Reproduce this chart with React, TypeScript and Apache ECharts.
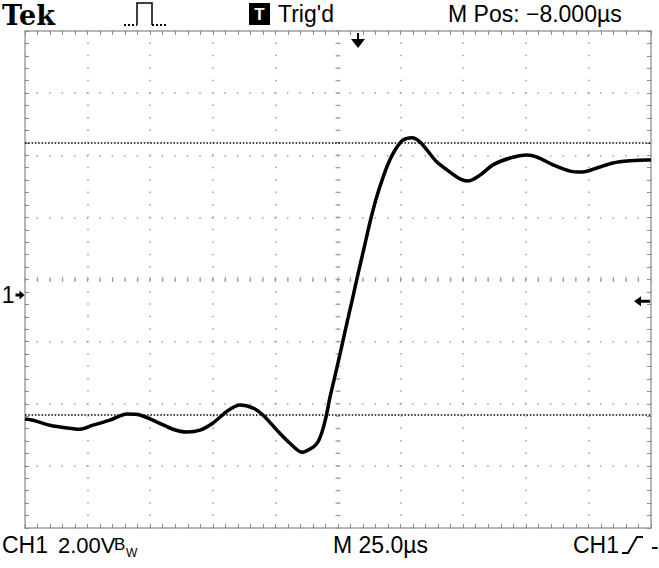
import React, { useEffect, useRef } from "react";
import * as echarts from "echarts";

// Time axis: 25 µs/div, 10 divisions (0..250 µs across the screen)
const timeUs = [0, 3.2, 10, 16.8, 22, 27.2, 33.9, 40.7, 45.9, 52.7, 59.1, 64.7, 69.9, 75.1, 80.7, 85.9, 91.1, 95, 100.6, 105.8, 110.6, 115, 117, 118.6, 120.2, 121.8, 123.4, 125.8, 128.2, 130.6, 133, 135.4, 137.8, 140.2, 142.6, 145, 147.8, 151, 154.6, 157.7, 160.5, 164.5, 168.5, 173.7, 176.9, 181.7, 186.9, 193.7, 200.5, 204.5, 210.9, 217.7, 222.8, 228.4, 234.8, 241.6, 248.4, 250];
// CH1 volts: 2.00 V/div, ground 0.25 div below centre
const ch1Volts = [-3.99, -4.03, -4.19, -4.28, -4.32, -4.19, -4.03, -3.83, -3.86, -4.09, -4.32, -4.41, -4.35, -4.12, -3.74, -3.54, -3.64, -3.86, -4.35, -4.77, -5.06, -4.9, -4.73, -4.41, -3.93, -3.29, -2.74, -1.9, -1.03, -0.19, 0.68, 1.51, 2.35, 3.09, 3.7, 4.22, 4.67, 4.99, 5.06, 4.93, 4.67, 4.28, 4.03, 3.74, 3.67, 3.86, 4.19, 4.41, 4.51, 4.44, 4.19, 3.99, 3.96, 4.09, 4.25, 4.32, 4.35, 4.35];
const cursorVolts = [4.9, -3.86];
const triggerTimeUs = 133;
const triggerLevelV = -0.2;
const groundV = 0;
const voltRange = [-7.5, 8.5];
const timeRange = [0, 250];
const headerTexts = ["Tek", "Trig'd", "M Pos: \u22128.000\u00b5s"];
const footerTexts = ["CH1", "2.00V", "B", "W", "M 25.0\u00b5s", "CH1", "-"];

const GRAY = "#a0a0a0";
const TICK = "#8c8c8c";
const SANS = '"Liberation Sans", Arial, sans-serif';

function divAxis(position: string, max: number, split: any) {
  return {
    type: "value",
    min: 0,
    max,
    interval: 1,
    position,
    axisLine: { show: true, onZero: false, lineStyle: { color: GRAY, width: 1.5 } },
    axisTick: { show: true, inside: true, length: 4, lineStyle: { color: TICK, width: 1 } },
    minorTick: { show: true, splitNumber: 5, length: 4, lineStyle: { color: TICK, width: 1 } },
    axisLabel: { show: false },
    splitLine: split,
  };
}

export default function App() {
  const ref = useRef<HTMLDivElement>(null);
  useEffect(() => {
    if (!ref.current) return;
    const chart = echarts.init(ref.current, undefined, { renderer: "svg" });
    const txt = (text: string, x: number, y: number, font: string, extra: any = {}) => ({
      type: "text",
      x,
      y,
      silent: true,
      style: { text, font, fill: "#000", align: "left", verticalAlign: "middle", ...extra },
    });
    const option: any = {
      animation: false,
      backgroundColor: "#fff",
      grid: { left: 25, top: 31, width: 626, height: 497, containLabel: false },
      xAxis: [
        divAxis("bottom", 10, {
          show: true,
          lineStyle: { color: GRAY, width: 1.5, type: [1.5, 10.925], dashOffset: 0.75 },
        }),
        divAxis("top", 10, { show: false }),
        { type: "value", min: timeRange[0], max: timeRange[1], show: false },
      ],
      yAxis: [
        divAxis("left", 8, {
          show: true,
          lineStyle: { color: GRAY, width: 1.5, type: [1.5, 11.02], dashOffset: 0.75 },
        }),
        divAxis("right", 8, { show: false }),
        { type: "value", min: voltRange[0], max: voltRange[1], show: false },
      ],
      series: [
        {
          type: "custom",
          xAxisIndex: 0,
          yAxisIndex: 0,
          silent: true,
          clip: false,
          data: [[5, 4]],
          renderItem: (_p: any, api: any) => {
            const children: any[] = [];
            for (let i = 0; i <= 50; i++) {
              const p = api.coord([i / 5, 4]);
              children.push({
                type: "line",
                shape: { x1: p[0], y1: p[1] - 2.5, x2: p[0], y2: p[1] + 2.5 },
                style: { stroke: GRAY, lineWidth: 1.2 },
              });
            }
            for (let j = 0; j <= 40; j++) {
              const p = api.coord([5, j / 5]);
              children.push({
                type: "line",
                shape: { x1: p[0] - 2.5, y1: p[1], x2: p[0] + 2.5, y2: p[1] },
                style: { stroke: GRAY, lineWidth: 1.2 },
              });
            }
            return { type: "group", children };
          },
        },
        {
          type: "line",
          xAxisIndex: 2,
          yAxisIndex: 2,
          data: timeUs.map((t, i) => [t, ch1Volts[i]]),
          showSymbol: false,
          smooth: 0.3,
          lineStyle: { color: "#000", width: 3.5 },
          silent: true,
          z: 5,
          markLine: {
            silent: true,
            symbol: ["none", "none"],
            label: { show: false },
            lineStyle: { color: "#000", width: 1.5, type: [1.5, 1.8] },
            data: cursorVolts.map((v) => ({ yAxis: v })),
          },
          markPoint: {
            silent: true,
            label: { show: false },
            itemStyle: { color: "#000" },
            data: [
              {
                coord: [triggerTimeUs, voltRange[1]],
                symbol: "path://M6,0 L8,0 L8,6 L14,6 L7,15 L0,6 L6,6 Z",
                symbolSize: [14, 15],
                symbolOffset: [0, 9.5],
              },
              {
                coord: [timeRange[0], groundV],
                symbol: "path://M0,3 L4,3 L4,0 L9,4.5 L4,9 L4,6 L0,6 Z",
                symbolSize: [9, 9],
                symbolOffset: [-5, 0],
                label: {
                  show: true,
                  formatter: "1",
                  position: "left",
                  distance: 1,
                  color: "#000",
                  fontSize: 23,
                  fontFamily: SANS,
                },
              },
              {
                coord: [timeRange[1], triggerLevelV],
                symbol: "path://M0,5 L7,0 L7,3.5 L16,3.5 L16,6.5 L7,6.5 L7,10 Z",
                symbolSize: [16, 10],
                symbolOffset: [-9, 0],
              },
            ],
          },
        },
      ],
      graphic: [
        txt(headerTexts[0], 2, 15, 'bold 27px "DejaVu Serif", serif'),
        {
          type: "polyline",
          silent: true,
          shape: { points: [[137, 25], [137, 3], [152, 3], [152, 25]] },
          style: { stroke: "#000", lineWidth: 1.5, fill: null },
        },
        {
          type: "polyline",
          silent: true,
          shape: { points: [[124, 25], [137, 25]] },
          style: { stroke: "#000", lineWidth: 2, lineDash: [2, 2], fill: null },
        },
        {
          type: "polyline",
          silent: true,
          shape: { points: [[152, 25], [168, 25]] },
          style: { stroke: "#000", lineWidth: 2, lineDash: [2, 2], fill: null },
        },
        { type: "rect", silent: true, shape: { x: 249, y: 3, width: 21, height: 22 }, style: { fill: "#000" } },
        txt("T", 259.5, 14, `bold 17px ${SANS}`, { fill: "#fff", align: "center" }),
        txt(headerTexts[1], 278, 13.5, `23px ${SANS}`),
        txt(headerTexts[2], 448, 13.5, `23px ${SANS}`),
        txt(footerTexts[0], 2, 545, `23px ${SANS}`),
        txt(footerTexts[1], 58, 545, `22px ${SANS}`),
        txt(footerTexts[2], 114, 544, `17px ${SANS}`),
        txt(footerTexts[3], 126, 553, `12px ${SANS}`),
        txt(footerTexts[4], 333, 545, `23px ${SANS}`),
        txt(footerTexts[5], 573, 545, `23px ${SANS}`),
        {
          type: "polyline",
          silent: true,
          shape: { points: [[622, 553], [628, 553], [637, 537], [643, 537]] },
          style: { stroke: "#000", lineWidth: 2, fill: null },
        },
        txt(footerTexts[6], 651, 546, `23px ${SANS}`),
      ],
    };
    chart.setOption(option);
    return () => chart.dispose();
  }, []);
  return (
    <div
      ref={ref}
      style={{ position: "absolute", left: 0, top: 0, width: 659, height: 568, background: "#fff" }}
    />
  );
}
